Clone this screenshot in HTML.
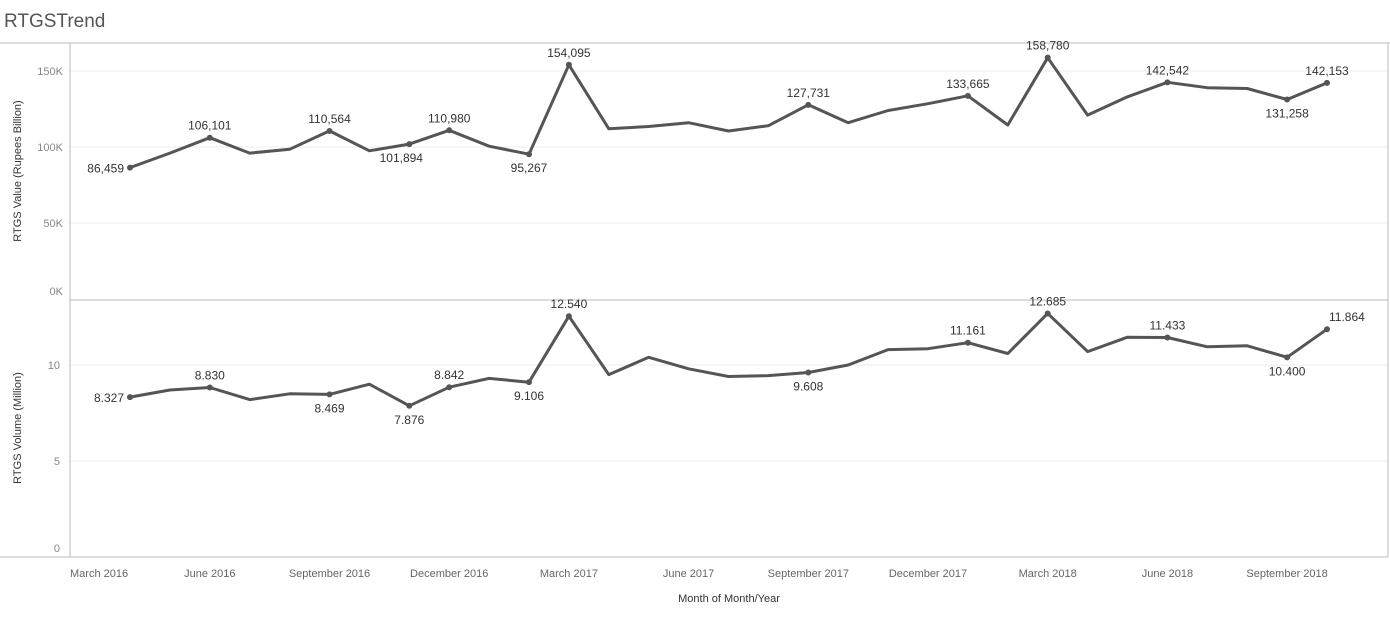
<!DOCTYPE html>
<html><head><meta charset="utf-8">
<style>
html,body{margin:0;padding:0;background:#fff;}
body{width:1390px;height:615px;overflow:hidden;font-family:"Liberation Sans",Arial,sans-serif;}
svg text{font-family:"Liberation Sans",Arial,sans-serif;}
</style></head>
<body>
<svg id="chart" width="1390" height="615" xmlns="http://www.w3.org/2000/svg">
<text x="4" y="27" font-size="19" fill="#555">RTGSTrend</text>
<line x1="0" y1="43" x2="1390" y2="43" stroke="#bbb"/>
<g id="grid"></g>
<g id="axes"></g>
<g id="series"></g>
<g id="labels"></g>
</svg>
<script>
const categories = ["Apr 2016","May 2016","Jun 2016","Jul 2016","Aug 2016","Sep 2016","Oct 2016","Nov 2016","Dec 2016","Jan 2017","Feb 2017","Mar 2017","Apr 2017","May 2017","Jun 2017","Jul 2017","Aug 2017","Sep 2017","Oct 2017","Nov 2017","Dec 2017","Jan 2018","Feb 2018","Mar 2018","Apr 2018","May 2018","Jun 2018","Jul 2018","Aug 2018","Sep 2018","Oct 2018"];
const valueSeries = [86459,96000,106101,96000,98500,110564,97500,101894,110980,100500,95267,154095,112000,113500,116000,110500,114000,127731,116000,124000,128500,133665,114500,158780,121000,133000,142542,139000,138500,131258,142153];
const volumeSeries = [8.327,8.7,8.830,8.2,8.5,8.469,9.0,7.876,8.842,9.3,9.106,12.540,9.5,10.4,9.8,9.4,9.45,9.608,10.0,10.8,10.85,11.161,10.6,12.685,10.7,11.45,11.433,10.95,11.0,10.400,11.864];
const valueLabelIdx = [0,2,5,7,8,10,11,17,21,23,26,29,30];
const valueLabelPos = ["left","above","above","below","above","below","above","above","above","above","above","below","above"];
const volumeLabelIdx = [0,2,5,7,8,10,11,17,21,23,26,29,30];
const volumeLabelPos = ["left","above","below","below","above","below","above","below","above","above","above","below","above"];
const valueTicks = [0,50000,100000,150000];
const valueTickLabels = ["0K","50K","100K","150K"];
const volumeTicks = [0,5,10];
const volumeTickLabels = ["0","5","10"];
const xTickIdx = [-1,2,5,8,11,14,17,20,23,26,29];
const xTickLabels = ["March 2016","June 2016","September 2016","December 2016","March 2017","June 2017","September 2017","December 2017","March 2018","June 2018","September 2018"];

const NS="http://www.w3.org/2000/svg";
const L=70,R=1388;
const xs=i=>130+i*39.9;
const yVal=v=>299-v/1000*1.52;
const yVol=v=>557-v*19.2;
function mk(tag,attrs,parent,txt){const e=document.createElementNS(NS,tag);for(const k in attrs)e.setAttribute(k,attrs[k]);if(txt!==undefined)e.textContent=txt;document.getElementById(parent).appendChild(e);return e;}

// grid + y ticks
valueTicks.forEach((t,i)=>{
  const y=yVal(t);
  if(t>0){const g=mk('line',{x1:L,x2:R,y1:y,y2:y,stroke:'#eee'},'grid');
  
  }
  const tx=mk('text',{x:63,y:Math.min(y+4,295),'text-anchor':'end','font-size':11,fill:'#888'},'axes',valueTickLabels[i]);
  
  
});
volumeTicks.forEach((t,i)=>{
  const y=yVol(t);
  if(t>0){const g=mk('line',{x1:L,x2:R,y1:y,y2:y,stroke:'#eee'},'grid');
  
  }
  const tx=mk('text',{x:60,y:Math.min(y+4,552),'text-anchor':'end','font-size':11,fill:'#888'},'axes',volumeTickLabels[i]);
  
  
});
// frame
[[L,43,L,557],[R,43,R,557],[L,300,R,300],[0,557,R,557]].forEach(c=>{
  const l=mk('line',{x1:c[0],y1:c[1],x2:c[2],y2:c[3],stroke:'#bbb'},'axes');
  
  
});
// axis titles
let t1=mk('text',{x:0,y:0,transform:'translate(21,171) rotate(-90)','text-anchor':'middle','font-size':11,fill:'#333'},'axes','RTGS Value (Rupees Billion)');


let t2=mk('text',{x:0,y:0,transform:'translate(21,428) rotate(-90)','text-anchor':'middle','font-size':11,fill:'#333'},'axes','RTGS Volume (Million)');


let t3=mk('text',{x:729,y:602,'text-anchor':'middle','font-size':11,fill:'#333'},'axes','Month of Month/Year');


// x ticks
xTickIdx.forEach((k,i)=>{
  let x=xs(k), anchor='middle';
  if(x<110){x=70;anchor='start';}
  const tx=mk('text',{x:x,y:577,'text-anchor':anchor,'font-size':11,fill:'#666'},'axes',xTickLabels[i]);
  
  
});
// series
function drawSeries(data,yf,name){
  const d=data.map((v,i)=>(i?'L':'M')+xs(i).toFixed(1)+','+yf(v).toFixed(1)).join(' ');
  const p=mk('path',{d:d,fill:'none',stroke:'#555','stroke-width':3,'stroke-linejoin':'round'},'series');
  
  
}
drawSeries(valueSeries,yVal,'value');
drawSeries(volumeSeries,yVol,'volume');
function fmtVal(v){return v.toLocaleString('en-US');}
function drawLabels(data,yf,idx,pos,fmt,name){
  idx.forEach((k,j)=>{
    const x=xs(k),y=yf(data[k]);
    const c=mk('circle',{cx:x,cy:y,r:3,fill:'#555'},'labels');
    
    
    let tx,ty,a='middle';
    if(pos[j]==='left'){tx=x-6;ty=y+5;a='end';}
    else if(pos[j]==='above'){tx=x;ty=y-8;}
    else {tx=x;ty=y+18;}
    if(k===30&&name==='volume'){tx=x+2;a='start';}
    if(k===7&&name==='value'){tx=x-8;}
    const t=mk('text',{x:tx,y:ty,'text-anchor':a,'font-size':12,fill:'#333'},'labels',fmt(data[k]));
    
    
  });
}
drawLabels(valueSeries,yVal,valueLabelIdx,valueLabelPos,fmtVal,'value');
drawLabels(volumeSeries,yVol,volumeLabelIdx,volumeLabelPos,v=>v.toFixed(3),'volume');
</script>
</body></html>
